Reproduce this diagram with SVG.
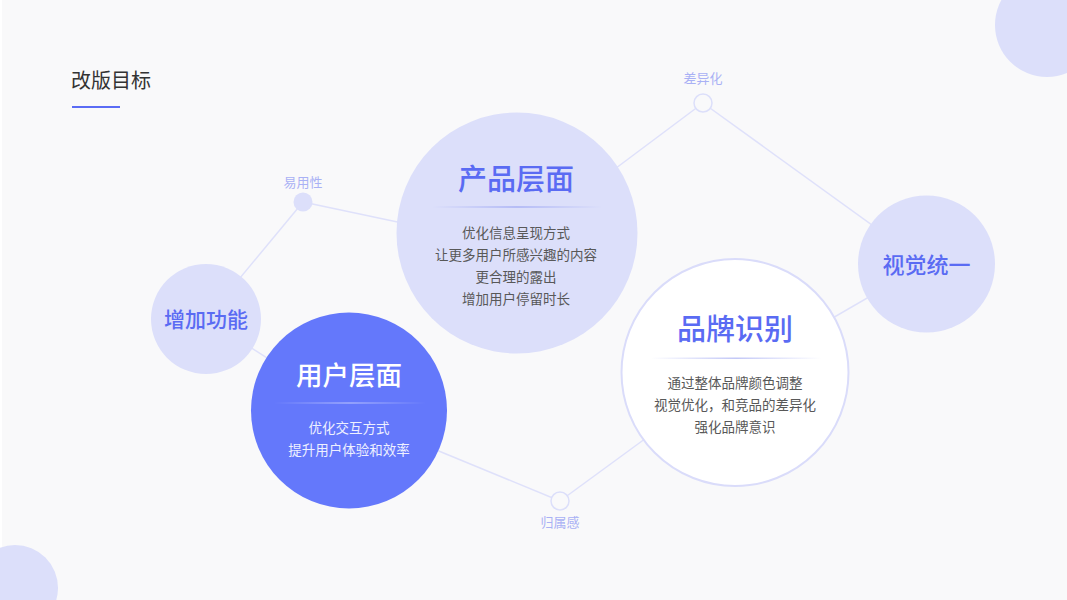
<svg xmlns="http://www.w3.org/2000/svg" width="1067" height="600" viewBox="0 0 1067 600">
  <defs>
    <linearGradient id="divBlue" x1="0" y1="0" x2="1" y2="0">
      <stop offset="0" stop-color="#8f9af2" stop-opacity="0"/>
      <stop offset="0.5" stop-color="#8f9af2" stop-opacity="1"/>
      <stop offset="1" stop-color="#8f9af2" stop-opacity="0"/>
    </linearGradient>
    <linearGradient id="divWhite" x1="0" y1="0" x2="1" y2="0">
      <stop offset="0" stop-color="#ffffff" stop-opacity="0"/>
      <stop offset="0.5" stop-color="#ffffff" stop-opacity="0.6"/>
      <stop offset="1" stop-color="#ffffff" stop-opacity="0"/>
    </linearGradient>
    <linearGradient id="divLight" x1="0" y1="0" x2="1" y2="0">
      <stop offset="0" stop-color="#c3c8f7" stop-opacity="0"/>
      <stop offset="0.5" stop-color="#c3c8f7" stop-opacity="1"/>
      <stop offset="1" stop-color="#c3c8f7" stop-opacity="0"/>
    </linearGradient>
  </defs>
  <style>
    text { font-family: "Noto Sans CJK SC", "Noto Sans", sans-serif; text-anchor: middle; }
    .bg { fill: #f9f9fa; }
    .lav { fill: #dcdffa; }
    .conn line { stroke: #dfe1fa; stroke-width: 1.5; fill: none; }
    .hollow { fill: #f9f9fa; stroke: #dcdffa; stroke-width: 1.5; }
    .big { font-size: 29px; font-weight: 500; fill: #5a6bf3; }
    .mid { font-size: 21px; font-weight: 500; fill: #5a6bf3; }
    .body { font-size: 13.5px; fill: #585858; }
    .wbody { font-size: 13.5px; fill: #eef0ff; }
    .small { font-size: 13px; fill: #a9b1f5; }
  </style>

  <rect class="bg" x="0" y="0" width="1067" height="600"/>
  <rect x="0" y="0" width="2" height="600" fill="#ffffff"/>

  <!-- decorative corner circles -->
  <circle class="lav" cx="1047" cy="25" r="52"/>
  <circle class="lav" cx="15" cy="588" r="43"/>

  <!-- title -->
  <g id="title">
    <text x="111" y="88" style="font-size:20px;fill:#333333;">改版目标</text>
    <line x1="72" y1="107" x2="120" y2="107" stroke="#5b6cf5" stroke-width="2"/>
  </g>

  <!-- connectors -->
  <g id="connectors" class="conn">
    <line x1="206" y1="319" x2="303" y2="202"/>
    <line x1="303" y1="202" x2="440" y2="231"/>
    <line x1="560" y1="210" x2="703" y2="103"/>
    <line x1="703" y1="103" x2="926" y2="264"/>
    <line x1="926" y1="264" x2="760" y2="360"/>
    <line x1="735" y1="373" x2="560" y2="501"/>
    <line x1="560" y1="501" x2="349" y2="414"/>
    <line x1="206" y1="319" x2="349" y2="410"/>
  </g>

  <g id="node-yiyongxing">
    <circle class="lav" cx="303" cy="202" r="9.5"/>
    <text class="small" x="303" y="187">易用性</text>
  </g>

  <g id="node-chayihua">
    <circle class="hollow" cx="703" cy="103" r="9"/>
    <text class="small" x="703" y="83">差异化</text>
  </g>

  <g id="node-guishugan">
    <circle class="hollow" cx="560" cy="501" r="9"/>
    <text class="small" x="560" y="527">归属感</text>
  </g>

  <g id="node-zengjiagongneng">
    <circle class="lav" cx="206" cy="319" r="55"/>
    <text class="mid" x="206" y="327">增加功能</text>
  </g>

  <g id="node-chanpin">
    <circle class="lav" cx="517" cy="233" r="120.5"/>
    <text class="big" x="516" y="190">产品层面</text>
    <rect x="432" y="206.5" width="170" height="1" fill="url(#divBlue)"/>
    <text class="body" x="516" y="237.5">优化信息呈现方式</text>
    <text class="body" x="516" y="260">让更多用户所感兴趣的内容</text>
    <text class="body" x="516" y="282">更合理的露出</text>
    <text class="body" x="516" y="304">增加用户停留时长</text>
  </g>

  <g id="node-yonghu">
    <circle cx="349" cy="410.5" r="98" fill="#6478fb"/>
    <text x="349" y="385" style="font-size:26.5px;font-weight:500;fill:#ffffff;">用户层面</text>
    <rect x="274" y="402.5" width="152" height="1" fill="url(#divWhite)"/>
    <text class="wbody" x="349" y="433">优化交互方式</text>
    <text class="wbody" x="349" y="455">提升用户体验和效率</text>
  </g>

  <g id="node-pinpai">
    <circle cx="735" cy="372.5" r="113.5" fill="#ffffff" stroke="#dadcfa" stroke-width="2"/>
    <text class="big" x="735" y="340">品牌识别</text>
    <rect x="651" y="357.5" width="170" height="1.5" fill="url(#divLight)"/>
    <text class="body" x="735" y="388">通过整体品牌颜色调整</text>
    <text class="body" x="735" y="410">视觉优化，和竞品的差异化</text>
    <text class="body" x="735" y="432">强化品牌意识</text>
  </g>

  <g id="node-shijue">
    <circle class="lav" cx="926.5" cy="264" r="68.5"/>
    <text x="926.5" y="273" style="font-size:22px;font-weight:500;fill:#5a6bf3;">视觉统一</text>
  </g>
</svg>
